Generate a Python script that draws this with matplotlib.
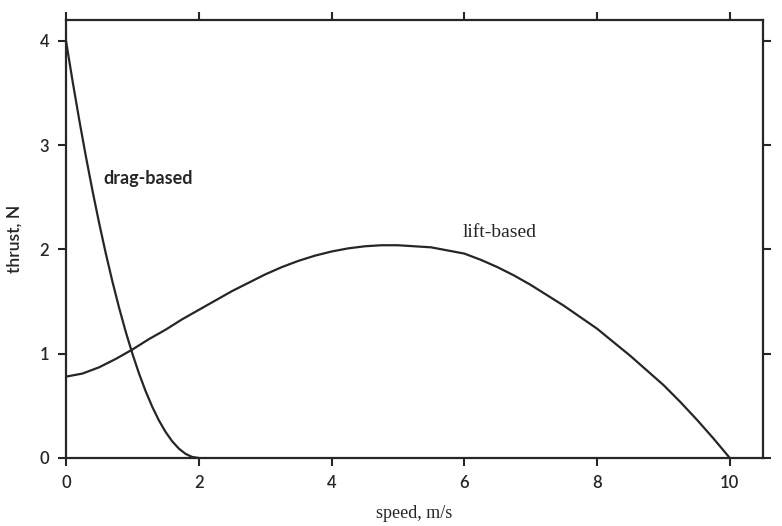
import matplotlib.pyplot as plt
import numpy as np

# values
drag_speed = [0.0, 0.1, 0.2, 0.3, 0.4, 0.5, 0.6, 0.7, 0.8, 0.9, 1.0,
              1.1, 1.2, 1.3, 1.4, 1.5, 1.6, 1.7, 1.8, 1.9, 2.0]
drag_thrust = [4.0, 3.61, 3.24, 2.89, 2.56, 2.25, 1.96, 1.69, 1.44, 1.21, 1.0,
               0.81, 0.64, 0.49, 0.36, 0.25, 0.16, 0.09, 0.04, 0.01, 0.0]

lift_speed = [0.0, 0.25, 0.5, 0.75, 1.0, 1.25, 1.5, 1.75, 2.0, 2.25, 2.5,
              2.75, 3.0, 3.25, 3.5, 3.75, 4.0, 4.25, 4.5, 4.75, 5.0,
              5.25, 5.5, 5.75, 6.0, 6.25, 6.5, 6.75, 7.0, 7.25, 7.5,
              7.75, 8.0, 8.25, 8.5, 8.75, 9.0, 9.25, 9.5, 9.75, 10.0]
lift_thrust = [0.78, 0.81, 0.87, 0.95, 1.04, 1.14, 1.23, 1.33, 1.42, 1.51, 1.60,
               1.68, 1.76, 1.83, 1.89, 1.94, 1.98, 2.01, 2.03, 2.04, 2.04,
               2.03, 2.02, 1.99, 1.96, 1.90, 1.83, 1.75, 1.66, 1.56, 1.46,
               1.35, 1.24, 1.11, 0.98, 0.84, 0.70, 0.54, 0.37, 0.19, 0.0]

x_ticks = [0, 2, 4, 6, 8, 10]
y_ticks = [0, 1, 2, 3, 4]

ink = "#262626"
sans = ["Lato", "DejaVu Sans"]
serif = ["Liberation Serif", "DejaVu Serif"]

fig = plt.figure(figsize=(7.82, 5.26), dpi=100)
ax = fig.add_axes([0.0844, 0.1293, 0.8913, 0.8327])

ax.plot(drag_speed, drag_thrust, color=ink, lw=1.6)
ax.plot(lift_speed, lift_thrust, color=ink, lw=1.6)

ax.set_xlim(0, 10.5)
ax.set_ylim(0, 4.2)
ax.set_xticks(x_ticks)
ax.set_yticks(y_ticks)
ax.tick_params(direction="out", length=6, width=1.5, color=ink,
               top=True, right=True, labelsize=12, labelcolor=ink, pad=6)
for lbl in ax.get_xticklabels() + ax.get_yticklabels():
    lbl.set_family(sans)
    lbl.set_fontweight("semibold")
for sp in ax.spines.values():
    sp.set_linewidth(1.6)
    sp.set_color(ink)

ax.text(0.57, 2.68, "drag-based", family=sans, fontsize=13, color=ink,
        fontweight="bold", va="center")
ax.text(5.97, 2.16, "lift-based", family=serif, fontsize=14, color=ink,
        va="center")

ax.set_xlabel("speed, m/s", family=serif, fontsize=13, color=ink, labelpad=10)
ax.set_ylabel("thrust, N", family=sans, fontsize=12.5, color=ink,
              fontweight="semibold", labelpad=8)
ax.yaxis.set_label_coords(-0.062, 0.5)

fig.savefig("out.png", dpi=100)
